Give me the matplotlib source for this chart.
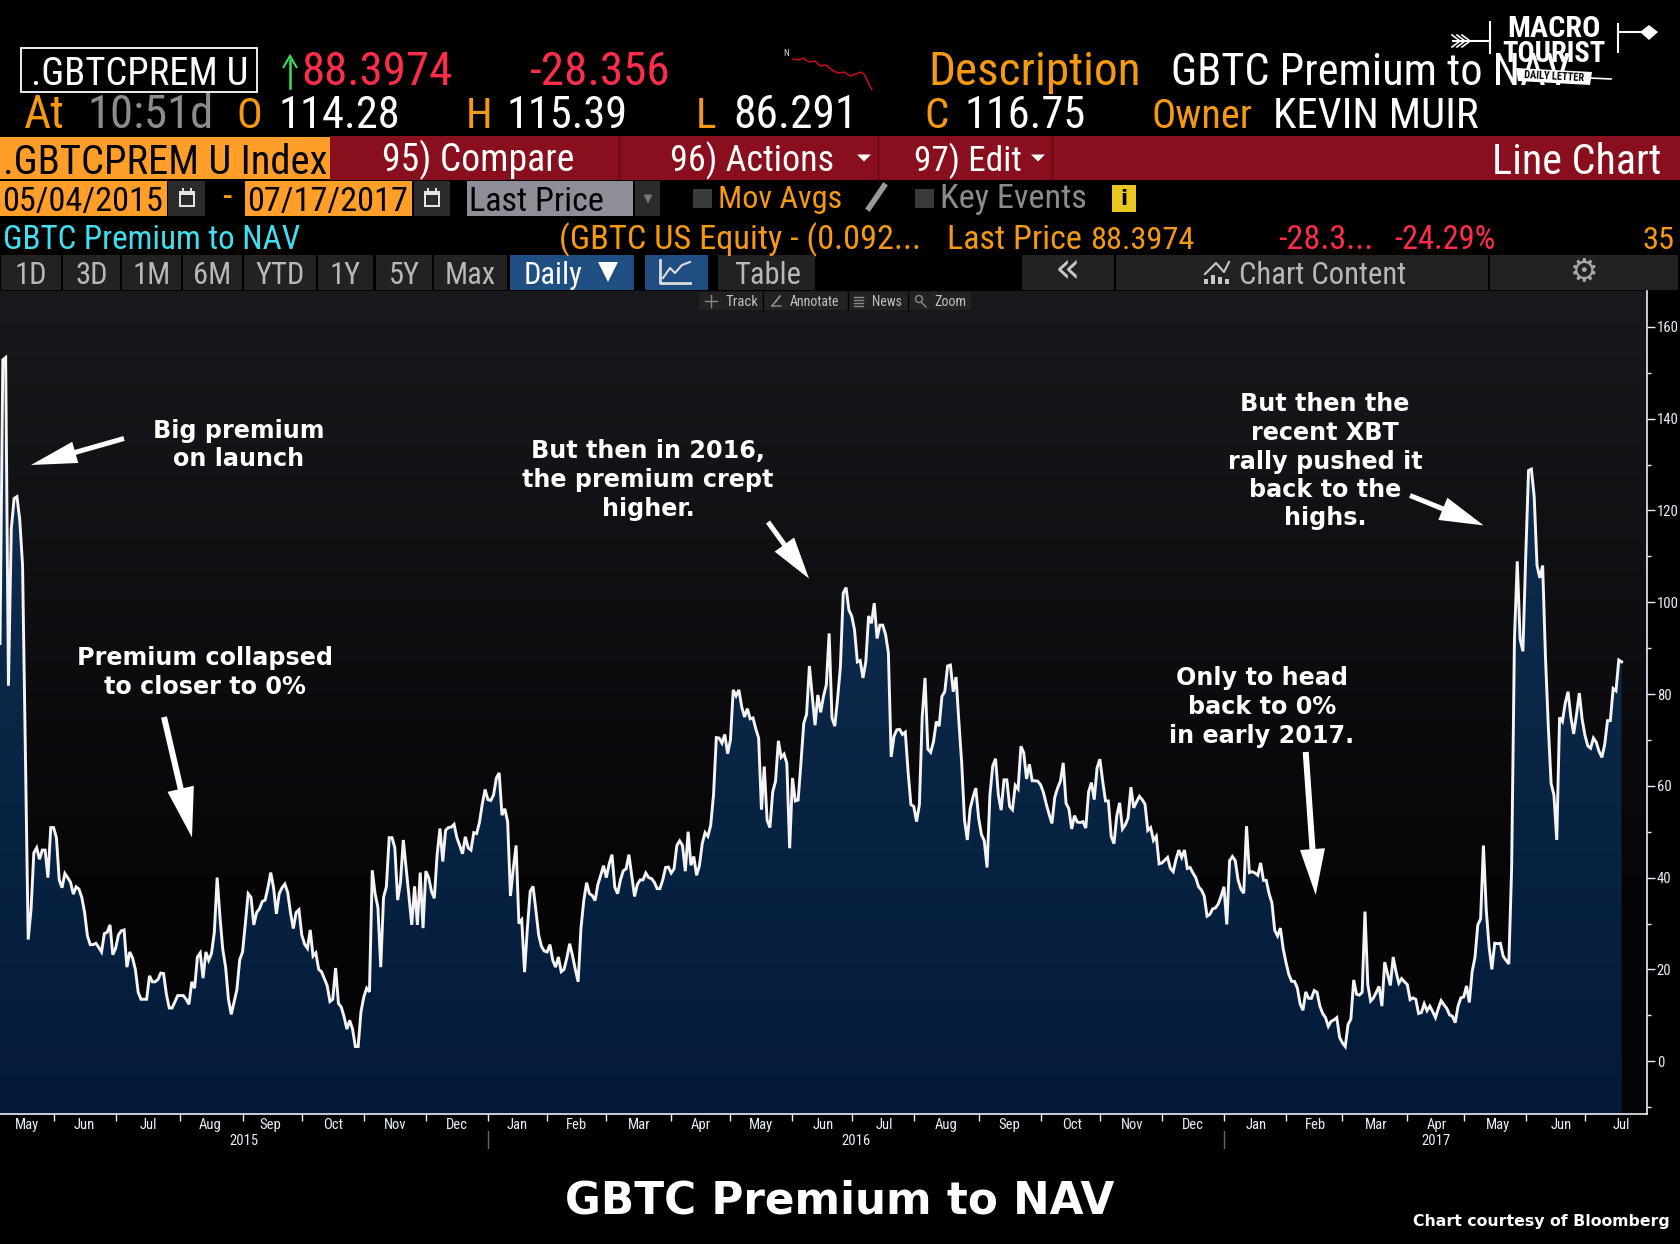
import numpy as np
import matplotlib
matplotlib.use("Agg")
import matplotlib.pyplot as plt
from matplotlib.patches import Rectangle, FancyArrow, Polygon, Circle
from matplotlib.ticker import FixedLocator, FixedFormatter, NullFormatter

# daily premium to NAV (%), one value per trading session from 05/04/2015
premium = [
    91, 152.8, 153.3, 81.8, 116, 122.6, 123, 118, 108, 68,
    26.5, 33, 45.4, 46.5, 44, 46, 46, 40, 50.9, 50.9,
    48.7, 39.5, 37.8, 40.9, 40, 39, 36.4, 38, 37.5, 35.7,
    32.4, 27.3, 25.4, 25.4, 25.7, 24.8, 23.8, 27.8, 28.1, 29.7,
    23.2, 24.6, 27.5, 28.4, 28.6, 20.5, 23.8, 22.5, 20, 15,
    13.5, 13.5, 13.5, 18.6, 17.3, 17.3, 17.8, 19.2, 19.1, 14.6,
    11.6, 11.6, 12.9, 14.3, 14.3, 14.3, 13.5, 12.4, 17.3, 15.9,
    22.7, 23.6, 18.1, 23.8, 22, 23.5, 28.1, 40, 31.4, 24.3,
    20.5, 13.5, 10.2, 12.9, 15.6, 22.1, 23.8, 30, 36.5, 35.7,
    29.7, 32.4, 33.2, 34.8, 35.1, 37.8, 41.1, 37.8, 32.1, 36.5,
    37.8, 38.6, 36.8, 32.4, 28.9, 32.4, 33, 27.5, 25.5, 24.6,
    28.6, 22.9, 23.6, 20, 19.5, 18, 16.5, 13, 13.5, 20.3,
    12.6, 11.8, 9.7, 7, 8.9, 7, 3.2, 3.2, 10.8, 14,
    15.9, 15.1, 41.6, 36.5, 33.5, 20.5, 35.7, 38, 48.7, 48.7,
    46.5, 35.1, 38.9, 48.2, 42.2, 36, 29.7, 38.1, 29.7, 41.1,
    29, 41.4, 40, 37, 35.5, 45, 50.7, 43.5, 50.3, 50.9,
    51, 51.6, 48.7, 47, 45.2, 48.9, 46.5, 46, 49.8, 49.6,
    52, 56, 59.2, 57, 56.8, 58, 61.7, 62.8, 53.6, 55,
    52.2, 36, 42, 47, 30, 30.8, 19.4, 29, 37, 38.1,
    33, 27.5, 25, 24, 23.8, 25.4, 22, 20.5, 22.7, 19.5,
    20, 22.5, 25.6, 23, 20, 17.3, 29, 35, 38.9, 36.5,
    36.1, 35, 38.5, 40.5, 42.6, 40, 43, 45, 37.9, 36.5,
    39.5, 41.5, 41.9, 45, 40.5, 35.9, 38.5, 39.5, 39.5, 41,
    40, 39.8, 39, 37.6, 37.6, 39.5, 42.2, 42.3, 41, 41.9,
    47, 48, 47, 41.4, 50, 42.7, 44.6, 40.5, 42.6, 47.4,
    49.8, 49, 51.4, 58, 70.5, 70.4, 69.3, 71.2, 67, 70,
    80.9, 79.6, 80.9, 77.2, 75, 76.8, 74.6, 74.8, 72.4, 70.4,
    54.8, 64.2, 52.5, 50.9, 58.7, 61, 69.8, 66.2, 66.9, 64.9,
    46.4, 61.7, 56.7, 56.9, 65, 73.6, 75.6, 86.1, 79.6, 73.2,
    79.8, 76, 79.5, 82, 93.2, 74.8, 73, 79, 86, 102,
    103.2, 98.3, 97, 94, 87, 87.3, 83.5, 87, 97, 95.4,
    99.8, 92.1, 95, 95, 93, 89, 66.3, 70.8, 72.2, 72.3,
    71.2, 71.7, 63, 55.9, 55.5, 52.2, 55.9, 75, 83.5, 68,
    67.3, 69.6, 74, 73, 79.5, 80.5, 86.1, 86.3, 80.5, 83.7,
    74, 65, 52.5, 48.2, 55, 57.5, 59.5, 53, 49.4, 48,
    42.2, 57.9, 64.3, 65.9, 58, 54.7, 61.3, 61.3, 55.5, 54.8,
    60.1, 59.3, 68.6, 67.2, 61.5, 64.7, 61.1, 61.1, 61, 60.2,
    58.5, 56, 53.8, 51.8, 57.5, 59.5, 61, 65, 56.2, 55,
    50.6, 53.5, 52.1, 52, 52.2, 50.8, 58.7, 60.7, 57, 63.9,
    65.8, 61, 56.7, 56.7, 49, 47.4, 53.5, 56.3, 50.6, 51.5,
    53, 59.7, 55.2, 56.5, 57.7, 57, 56, 50.3, 50.9, 48.1,
    49, 43, 43.2, 43.8, 44.4, 42, 41.3, 44, 46, 44.4,
    46, 42, 42.2, 41, 40, 38, 37.3, 36, 31.6, 32,
    33.2, 33.4, 34.3, 36, 38, 29.8, 43.7, 44.6, 43.7, 39.5,
    37.5, 36.6, 51.2, 41.1, 41.3, 41, 40.5, 43.2, 39.4, 39.4,
    36.5, 34.5, 28.5, 27.3, 29, 24.5, 21.5, 18.9, 17.4, 17.4,
    16, 12.5, 11.1, 15.1, 13.7, 13.7, 15.4, 15, 12, 10.4,
    9.5, 7.6, 8.7, 9, 9.5, 5.2, 4, 3.2, 8, 9.2,
    17.7, 14.6, 14.4, 15, 32.6, 16.7, 13.1, 13.8, 15, 16.3,
    12, 21.6, 19, 16.5, 22.7, 19.5, 17, 18, 17.3, 16.7,
    13.4, 13.8, 13.5, 10.4, 10.6, 12.5, 11, 12, 10.8, 9.5,
    11.5, 13.2, 12.3, 11.5, 10.1, 9.8, 8.4, 12, 13.8, 14,
    16.4, 12.8, 19.5, 22.6, 29.7, 31, 47, 33, 25, 20,
    25.7, 25.6, 25.7, 22.9, 22, 21.2, 42, 92, 108.9, 92,
    89.3, 110, 128.7, 129, 123, 108, 105.3, 108, 88, 73,
    60.5, 58, 48.2, 74.9, 74, 78, 80.5, 75, 71.3, 75.5,
    80.2, 74.5, 71, 68.7, 68.2, 70.4, 69.5, 67.5, 66.2, 69,
    74.2, 74.2, 81.2, 80.7, 87.4, 87,
]
month_starts = [19, 41, 64, 86, 107, 129, 151, 173, 194, 215, 238, 259, 281,
                302, 324, 347, 369, 390, 412, 434, 456, 476, 499, 519, 541, 562]
month_label_at = [9.5, 30, 52.5, 74.5, 96, 118, 140, 162, 183.5, 204.5, 226.5, 248.5, 270, 292, 313.5,
                  335.5, 358, 380, 401.5, 423, 445.5, 466.5, 488, 509.5, 531, 553.5, 575]
month_names = ["May", "Jun", "Jul", "Aug", "Sep", "Oct", "Nov", "Dec", "Jan", "Feb", "Mar", "Apr", "May",
               "Jun", "Jul", "Aug", "Sep", "Oct", "Nov", "Dec", "Jan", "Feb", "Mar", "Apr", "May", "Jun", "Jul"]
range_buttons = ["1D", "3D", "1M", "6M", "YTD", "1Y", "5Y", "Max"]
year_names = ["2015", "2016", "2017"]
year_mids = [86.6, 303.5, 509]
year_seps = [173, 434]

ORANGE = "#f59a10"
RED = "#ff2d4a"
plt.rcParams["font.family"] = ["Roboto Condensed", "DejaVu Sans"]

fig = plt.figure(figsize=(16.8, 12.44), dpi=100, facecolor="black")
ax = fig.add_axes([0, 130 / 1244, 1647 / 1680, 823 / 1244], zorder=1)
x_max = 584
y_min, y_max = -11.5, 167.8

# background and area gradients
bg_top = np.array([0x18, 0x19, 0x1c]) / 255
bg_bot = np.array([0x05, 0x05, 0x08]) / 255
t = np.clip(np.linspace(0, 1, 256) / 0.75, 0, 1)[:, None]
ax.imshow((bg_top * (1 - t) + bg_bot * t)[:, None, :], extent=[0, x_max, y_min, y_max], aspect="auto", zorder=0)

x = np.arange(len(premium))
area = ax.fill_between(x, premium, y_min, color="none", lw=0)
fill_top = np.array([0x10, 0x2d, 0x4e]) / 255
fill_bot = np.array([0x03, 0x1b, 0x39]) / 255
t = np.linspace(0, 1, 256)[:, None]
grad = ax.imshow((fill_top * (1 - t) + fill_bot * t)[:, None, :], extent=[0, x_max, y_min, 135], aspect="auto", zorder=2)
grad.set_clip_path(area.get_paths()[0], transform=ax.transData)
ax.plot(x, premium, color="#f4f4f4", lw=2.1, zorder=3, solid_joinstyle="miter")
ax.set_xlim(0, x_max)
ax.set_ylim(y_min, y_max)

# right value axis
ax.yaxis.tick_right()
ax.set_yticks(np.arange(0, 161, 20))
ax.set_yticks(np.arange(-10, 161, 10), minor=True)
ax.tick_params(axis="y", which="major", length=6, width=1, colors="#e8eef8", labelsize=10.5, pad=1)
ax.tick_params(axis="y", which="minor", length=3, width=1, color="#e8eef8")

# month axis
ax.xaxis.set_major_locator(FixedLocator(month_starts))
ax.xaxis.set_major_formatter(NullFormatter())
ax.xaxis.set_minor_locator(FixedLocator(month_label_at))
ax.xaxis.set_minor_formatter(FixedFormatter(month_names))
ax.tick_params(axis="x", which="major", length=5, width=1, color="#e8eef8")
ax.tick_params(axis="x", which="minor", length=0, labelsize=10.5, labelcolor="#e8eef8", pad=3)
for name, mid in zip(year_names, year_mids):
    ax.annotate(name, (mid, 0), xycoords=("data", "axes fraction"), xytext=(0, -19.5), textcoords="offset points",
                ha="center", va="center", color="#e8eef8", fontsize=10.5)
for sep in year_seps:
    ax.plot([sep, sep], [-0.021, -0.041], transform=ax.get_xaxis_transform(), clip_on=False, color="#666666", lw=1)
for side in ["left", "top"]:
    ax.spines[side].set_visible(False)
for side in ["right", "bottom"]:
    ax.spines[side].set_color("#e8eef8")
    ax.spines[side].set_linewidth(1.2)

# overlay in picture pixels for the terminal header and notes
ov = fig.add_axes([0, 0, 1, 1], zorder=2)
ov.set_xlim(0, 1680)
ov.set_ylim(1244, 0)
ov.axis("off")
rend = fig.canvas.get_renderer()


def txt(px, py, s, color="white", size=27.3, width=None, **kw):
    t = ov.text(px, py, s, color=color, fontsize=size, va=kw.pop("va", "baseline"), **kw)
    if width:
        # the terminal font has its own widths, so fit the size to the measured run of text
        t.set_fontsize(size * width / t.get_window_extent(rend).width)
    return t


def box(x0, y0, x1, y1, color, **kw):
    ov.add_patch(Rectangle((x0, y0), x1 - x0, y1 - y0, facecolor=color, lw=kw.pop("lw", 0), **kw))


def tri(cx, cy, w, h, color="white"):
    ov.add_patch(Polygon([(cx - w / 2, cy - h / 2), (cx + w / 2, cy - h / 2), (cx, cy + h / 2)], color=color, lw=0))


def arrow(x0, y0, x1, y1, w=6, hw=26, hl=46):
    ov.add_patch(FancyArrow(x0, y0, x1 - x0, y1 - y0, width=w, head_width=hw, head_length=hl,
                            length_includes_head=True, color="white", lw=0, zorder=6))


# row 1
ov.add_patch(Rectangle((21, 48), 236, 44, facecolor="black", edgecolor="white", lw=1.3))
txt(31, 85, ".GBTCPREM U", width=216)
ov.plot([290, 290], [60, 88], color="#3fe05a", lw=1.8)
ov.add_patch(Polygon([(283, 68), (290, 56), (297, 68)], closed=False, fill=False, edgecolor="#3fe05a", lw=1.5))
txt(301, 85, "88.3974", RED, width=151)
txt(530, 85, "-28.356", RED, width=140)
spark = [(793, 59), (799, 60), (803, 58), (809, 62), (815, 61), (820, 66), (826, 65), (832, 70), (838, 73),
         (844, 72), (850, 76), (856, 74), (861, 72), (864, 74), (867, 80), (872, 90)]
ov.plot(*zip(*spark), color="#d8101c", lw=1)
txt(783, 56, "N", "#dddddd", size=6.5)
txt(928, 85, "Description", ORANGE, size=34)
txt(1171, 85, "GBTC Premium to NAV", width=400)

# row 2
txt(24, 128, "At", ORANGE, width=41)
txt(87, 128, "10:51d", "#8c8c8c", width=126)
txt(236, 128, "O", ORANGE, size=31)
txt(278, 128, "114.28", width=121)
txt(466, 128, "H", ORANGE, size=31)
txt(506, 128, "115.39", width=121)
txt(696, 128, "L", ORANGE, size=31)
txt(733, 128, "86.291", width=124)
txt(924, 128, "C", ORANGE, size=31)
txt(964, 128, "116.75", width=121)
txt(1152, 128, "Owner", ORANGE, width=101)
txt(1273, 128, "KEVIN MUIR", width=205)

# row 3, red command bar
box(0, 137, 330, 179, "#ff9e28")
box(330, 136, 1680, 180, "#8a0f1e")
for sx in [619, 878, 1052]:
    ov.plot([sx, sx], [136, 180], color="#5c0a14", lw=1)
txt(3, 174, ".GBTCPREM U Index", "black", width=324)
txt(382, 171, "95) Compare", width=192)
txt(670, 171, "96) Actions", width=164)
tri(864, 158, 14, 7)
txt(914, 171, "97) Edit", width=108)
tri(1038, 158, 14, 7)
txt(1492, 174, "Line Chart", width=169)

# row 4
box(0, 181, 167, 216, "#ff9e28")
txt(2, 211, "05/04/2015", "black", width=160)
box(168, 181, 205, 216, "#2b2b2b")
txt(222, 208, "-", ORANGE)
box(245, 181, 412, 216, "#ff9e28")
txt(247, 211, "07/17/2017", "black", width=160)
box(414, 181, 450, 216, "#2b2b2b")
for cx in [187, 432]:
    box(cx - 8, 191, cx + 8, 207, "#e4e4e4")
    box(cx - 6, 195, cx + 6, 205, "#2b2b2b")
    box(cx - 5, 188, cx - 3, 193, "#e4e4e4")
    box(cx + 3, 188, cx + 5, 193, "#e4e4e4")
box(467, 181, 633, 216, "#8e8e98")
txt(469, 211, "Last Price", "black", width=135)
box(635, 181, 660, 216, "#2b2b2b")
tri(648, 199, 9, 9, "#777777")
box(693, 189, 712, 208, "#3a3a3a")
txt(718, 208, "Mov Avgs", ORANGE, width=124)
ov.plot([869, 884], [208, 186], color="#9a9a9a", lw=4)
box(915, 189, 934, 208, "#3a3a3a")
txt(940, 208, "Key Events", "#8c8c8c", width=147)
box(1112, 185, 1136, 212, "#e8c820")
ov.text(1124, 199, "i", color="black", fontsize=15, fontweight="bold", ha="center", va="center", family="DejaVu Sans")

# row 5
txt(3, 249, "GBTC Premium to NAV", "#3fe0f0", width=298)
txt(559, 249, "(GBTC US Equity - (0.092...", ORANGE, width=362)
txt(947, 249, "Last Price", ORANGE, width=135)
txt(1090, 249, "88.3974", ORANGE, width=104)
txt(1278, 249, "-28.3...", RED, width=95)
txt(1394, 249, "-24.29%", RED, width=101)
txt(1643, 249, "35", ORANGE, width=32)

# row 6, buttons
edges_px = [(1, 61), (63, 120), (122, 181), (183, 242), (244, 316), (318, 373), (376, 432), (434, 507)]
for (x0, x1), name in zip(edges_px, range_buttons):
    box(x0, 255, x1, 290, "#222222")
    txt((x0 + x1) / 2, 284, name, "#b8b8b8", size=22, ha="center")
box(510, 255, 634, 290, "#1f4e82")
txt(524, 284, "Daily", size=22)
tri(608, 272, 20, 20)
box(645, 255, 708, 290, "#1f4e82")
ov.plot([660, 660, 690], [260, 283, 283], color="#dddddd", lw=2)
ov.plot([663, 670, 675, 682, 690], [278, 268, 273, 265, 262], color="#dddddd", lw=1.5)
box(718, 255, 815, 290, "#222222")
txt(734, 284, "Table", "#b8b8b8", width=67)
box(1022, 255, 1114, 290, "#222222")
txt(1067, 282, "\u00ab", "#c8c8c8", size=30, ha="center", family="DejaVu Sans")
box(1116, 255, 1488, 290, "#222222")
ov.plot([1205, 1216, 1224, 1229], [274, 263, 272, 262], color="#c8c8c8", lw=1.5)
for bx, bh in zip([1204, 1211, 1218, 1225], [5, 9, 7, 5]):
    box(bx, 284 - bh, bx + 4, 284, "#c8c8c8")
txt(1239, 284, "Chart Content", "#b8b8b8", width=167)
box(1490, 255, 1678, 290, "#222222")
ov.text(1584, 272, "\u2699", color="#a8a8a8", fontsize=23, ha="center", va="center", family="DejaVu Sans")

# chart toolbar with its small icons
box(699, 292, 971, 310, "#222222")
for tx, name, w in [(725, "Track", 33), (790, "Annotate", 50), (872, "News", 30), (934, "Zoom", 32)]:
    txt(tx, 306, name, "#c0c0c0", size=10.5, width=w)
for sx in [763, 848, 908]:
    ov.plot([sx, sx], [292, 310], color="#000000", lw=1)
ov.plot([705, 717], [301, 301], color="#8a8a8a", lw=1)
ov.plot([711, 711], [295, 307], color="#8a8a8a", lw=1)
ov.plot([772, 780, 772, 781], [306, 296, 306, 306], color="#8a8a8a", lw=1)
for ly in [297, 300, 303, 306]:
    ov.plot([854, 863], [ly, ly], color="#8a8a8a", lw=1)
ov.add_patch(Circle((919, 299), 3.5, fill=False, edgecolor="#8a8a8a", lw=1))
ov.plot([921, 926], [302, 307], color="#8a8a8a", lw=1)

# logo
box(1500, 66, 1610, 88, "black")
txt(1507, 37, "MACRO", size=22, fontweight="bold", width=93)
txt(1502, 62, "TOURIST", size=22, fontweight="bold", width=103)
ov.add_patch(Polygon([(1516, 68), (1592, 72), (1590, 85), (1518, 81)], color="white", lw=0))
ov.text(1554, 77, "DAILY LETTER", color="black", fontsize=7.5, fontweight="bold", ha="center", va="center", rotation=-3)
ov.plot([1590, 1611], [78, 79], color="white", lw=1.2)
ov.plot([1453, 1490], [41, 41], color="white", lw=1.5)
ov.plot([1490, 1490], [22, 53], color="white", lw=1.5)
for fx in [1455, 1460, 1465]:
    ov.plot([fx - 3, fx + 5, fx - 3], [35, 41, 47], color="white", lw=1.2)
ov.plot([1618, 1618], [24, 52], color="white", lw=1.5)
ov.plot([1618, 1640], [32, 32], color="white", lw=1.5)
ov.add_patch(Polygon([(1640, 32), (1649, 25), (1658, 32), (1649, 40)], color="white", lw=0))

# notes on the chart
notes = [
    (239, [431, 459], ["Big premium", "on launch"]),
    (205, [658, 687], ["Premium collapsed", "to closer to 0%"]),
    (648, [451, 480, 509], ["But then in 2016,", "the premium crept", "higher."]),
    (1325, [404, 433, 462, 490, 518], ["But then the", "recent XBT", "rally pushed it", "back to the", "highs."]),
    (1262, [678, 707, 736], ["Only to head", "back to 0%", "in early 2017."]),
]
for cx, ys, lines in notes:
    for ly, line in zip(ys, lines):
        ov.text(cx, ly, line, color="white", fontsize=17.2, fontweight="bold", ha="center", va="center",
                family="DejaVu Sans", zorder=6)
arrow(124, 438.5, 31, 465, w=5, hw=22, hl=46)
arrow(164, 717, 192, 837.5, w=6, hw=27, hl=50)
arrow(768, 522, 809, 578.6, w=5, hw=24, hl=42)
arrow(1410, 495.5, 1483.6, 525.4, w=5, hw=24, hl=44)
arrow(1305.7, 752, 1315.7, 895, w=6, hw=25, hl=46)

# footer
ov.text(840, 1214, "GBTC Premium to NAV", color="white", fontsize=31.5, fontweight="bold", ha="center", family="DejaVu Sans")
ov.text(1670, 1226, "Chart courtesy of Bloomberg", color="white", fontsize=11.3, fontweight="bold", ha="right", family="DejaVu Sans")

fig.savefig("out.png", dpi=100, facecolor="black")
